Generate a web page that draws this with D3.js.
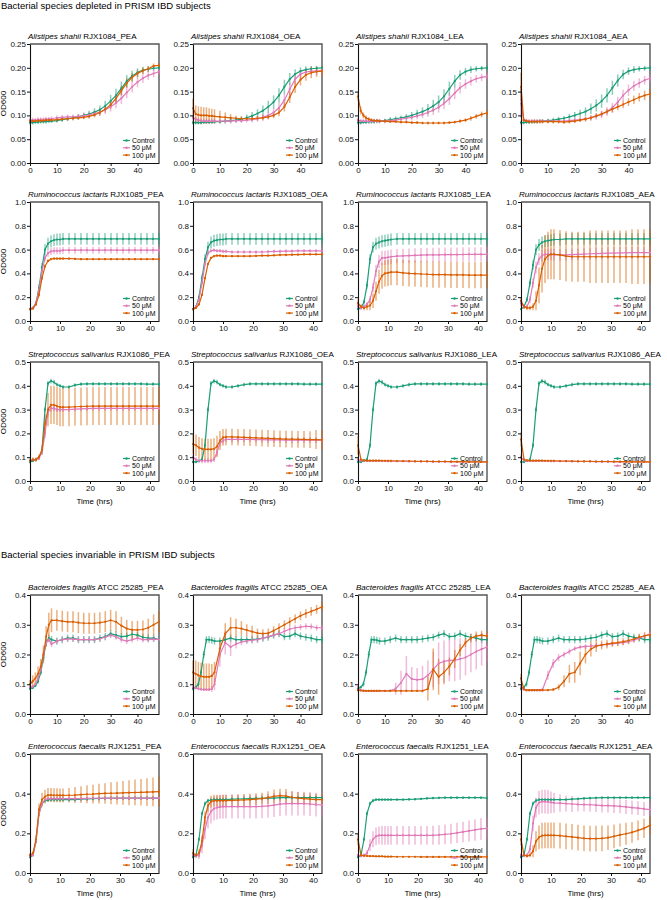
<!DOCTYPE html>
<html>
<head>
<meta charset="utf-8">
<script src="https://cdn.jsdelivr.net/npm/d3@7"></script>
<style>
	body { margin: 0; background: #fff; }
	text { font-family: "Liberation Sans", Arial, Helvetica, sans-serif; }
</style>
</head>
<body>
<svg id="chart" width="667" height="900"></svg>
<script>
// sampling times (hrs)
var timesA = [0,1,2,3,4,5,6,7,8,10,12,14,16,18,20,22,24,26,28,30,32,34,36,38,40,42,44,46,48];
var timesB = [0,1,2,3,4,5,6,7,8,9,10,11,13,15,17,19,21,23,25,27,29,31,33,35,37,39,41,43];

var compounds = ["PEA", "OEA", "LEA", "AEA"];
var treatments = ["Control", "50 μM", "100 μM"];
var species = ["Alistipes shahii", "Ruminococcus lactaris", "Streptococcus salivarius", "Bacteroides fragilis", "Enterococcus faecalis"];
var strains = ["RJX1084", "RJX1085", "RJX1086", "ATCC 25285", "RJX1251"];
var sectionTitles = ["Bacterial species depleted in PRISM IBD subjects", "Bacterial species invariable in PRISM IBD subjects"];
var xMaxes = [48, 43, 43, 48, 43];
var yMaxes = [0.25, 1.0, 0.5, 0.4, 0.6];
var xTicks = [0, 10, 20, 30, 40];
var yTicks = [
	[0, 0.05, 0.10, 0.15, 0.20, 0.25],
	[0, 0.2, 0.4, 0.6, 0.8, 1.0],
	[0, 0.1, 0.2, 0.3, 0.4, 0.5],
	[0, 0.1, 0.2, 0.3, 0.4],
	[0, 0.2, 0.4, 0.6]
];

// Alistipes shahii  [control, 50uM, 100uM]
var asPEA = [
	[.085,.085,.086,.086,.087,.087,.087,.088,.088,.089,.091,.093,.095,.097,.100,.103,.107,.112,.120,.130,.142,.157,.172,.183,.190,.195,.197,.199,.200],
	[.090,.090,.090,.091,.091,.091,.092,.092,.093,.095,.096,.097,.097,.098,.099,.101,.104,.107,.112,.118,.126,.136,.148,.160,.170,.178,.184,.188,.192],
	[.088,.088,.088,.089,.089,.089,.090,.090,.090,.091,.092,.093,.094,.095,.096,.098,.101,.106,.113,.122,.136,.152,.168,.180,.188,.194,.198,.204,.205]];
var asPEAerr = [
	[.004,.004,.004,.004,.004,.004,.004,.004,.004,.004,.005,.005,.005,.006,.006,.007,.008,.009,.011,.013,.014,.014,.013,.011,.009,.007,.006,.005,.005],
	[.005,.005,.005,.005,.005,.005,.005,.005,.005,.005,.005,.005,.005,.005,.006,.006,.007,.008,.009,.010,.011,.012,.012,.012,.011,.010,.009,.008,.007],
	[.004,.004,.004,.004,.004,.004,.004,.004,.004,.004,.004,.004,.004,.004,.004,.005,.005,.006,.007,.008,.009,.010,.010,.009,.008,.007,.006,.005,.005]];
var asOEA = [
	[.085,.085,.085,.085,.086,.086,.086,.086,.087,.087,.088,.089,.090,.092,.095,.099,.104,.110,.118,.128,.142,.160,.176,.187,.193,.196,.198,.199,.200],
	[.095,.092,.090,.089,.088,.088,.088,.088,.088,.088,.088,.088,.089,.089,.090,.091,.093,.096,.100,.106,.116,.132,.155,.176,.187,.191,.193,.193,.194],
	[.115,.103,.101,.100,.100,.100,.099,.099,.098,.097,.096,.095,.094,.093,.093,.093,.094,.095,.097,.100,.106,.118,.138,.160,.175,.185,.190,.192,.193]];
var asOEAerr = [
	[.004,.004,.004,.004,.004,.004,.004,.004,.004,.004,.005,.005,.005,.006,.007,.008,.009,.011,.013,.014,.015,.015,.013,.010,.008,.007,.006,.005,.005],
	[.006,.005,.005,.005,.005,.005,.005,.005,.005,.005,.005,.005,.005,.005,.005,.006,.006,.007,.008,.009,.011,.013,.014,.012,.010,.009,.008,.008,.008],
	[.020,.018,.018,.018,.017,.017,.016,.015,.015,.013,.010,.008,.006,.005,.005,.005,.005,.005,.005,.006,.008,.010,.012,.013,.012,.012,.012,.011,.011]];
var asLEA = [
	[.085,.085,.086,.086,.087,.087,.087,.088,.088,.089,.091,.093,.095,.097,.100,.104,.108,.113,.120,.128,.140,.156,.172,.185,.192,.196,.198,.199,.200],
	[.090,.088,.088,.088,.088,.088,.088,.088,.088,.088,.089,.090,.092,.094,.096,.099,.102,.106,.111,.117,.125,.135,.147,.158,.166,.172,.177,.180,.182],
	[.140,.110,.100,.095,.092,.090,.089,.089,.088,.088,.087,.087,.086,.086,.085,.085,.084,.084,.084,.084,.084,.085,.086,.088,.090,.094,.098,.102,.105]];
var asLEAerr = [
	[.004,.004,.004,.004,.004,.004,.004,.004,.004,.004,.005,.005,.005,.006,.007,.008,.009,.011,.013,.014,.015,.015,.013,.010,.008,.007,.006,.005,.005],
	[.005,.005,.005,.005,.005,.005,.005,.005,.005,.005,.005,.005,.005,.006,.006,.007,.008,.009,.010,.011,.012,.013,.013,.012,.010,.009,.008,.008,.007],
	[.010,.008,.006,.005,.004,.004,.003,.003,.003,.003,.003,.003,.003,.003,.003,.003,.003,.003,.003,.003,.003,.003,.003,.004,.004,.005,.005,.006,.006]];
var asAEA = [
	[.085,.085,.086,.086,.087,.087,.087,.088,.088,.089,.090,.092,.094,.097,.100,.104,.108,.114,.121,.130,.142,.158,.173,.186,.193,.196,.198,.199,.200],
	[.125,.090,.089,.088,.088,.088,.088,.088,.088,.088,.088,.088,.088,.089,.090,.091,.093,.095,.098,.102,.108,.116,.128,.142,.153,.162,.168,.174,.178],
	[.160,.090,.088,.087,.087,.087,.087,.087,.087,.087,.087,.087,.086,.087,.088,.090,.092,.095,.099,.103,.108,.113,.118,.123,.128,.133,.138,.142,.145]];
var asAEAerr = [
	[.004,.004,.004,.004,.004,.004,.004,.004,.004,.004,.005,.005,.005,.006,.007,.008,.009,.011,.013,.014,.015,.015,.013,.010,.008,.007,.006,.005,.005],
	[.030,.005,.004,.004,.004,.004,.004,.004,.004,.004,.004,.004,.004,.004,.005,.005,.005,.006,.007,.008,.009,.010,.011,.012,.012,.011,.010,.009,.008],
	[.030,.005,.004,.004,.004,.004,.004,.004,.004,.004,.004,.004,.004,.004,.004,.004,.005,.005,.005,.006,.006,.007,.007,.008,.008,.009,.009,.010,.010]];

// Ruminococcus lactaris
var rlPEA = [
	[.10,.11,.15,.28,.45,.60,.65,.67,.68,.685,.685,.69,.69,.69,.69,.69,.69,.69,.69,.69,.69,.69,.69,.69,.69,.69,.69,.69],
	[.10,.11,.15,.26,.42,.53,.57,.585,.59,.59,.59,.595,.595,.595,.595,.595,.595,.595,.595,.595,.595,.595,.595,.595,.595,.595,.595,.595],
	[.10,.105,.14,.22,.36,.46,.505,.52,.525,.525,.525,.525,.525,.522,.52,.52,.52,.52,.52,.52,.52,.52,.52,.52,.52,.52,.52,.52]];
var rlPEAerr = [
	[.01,.01,.02,.03,.04,.045,.05,.05,.05,.05,.05,.05,.05,.05,.05,.05,.05,.05,.05,.05,.05,.05,.05,.05,.05,.05,.05,.05],
	[.01,.01,.015,.02,.025,.03,.03,.03,.03,.03,.03,.03,.03,.03,.03,.03,.03,.03,.03,.03,.03,.03,.03,.03,.03,.03,.03,.03],
	[.01,.01,.01,.015,.015,.015,.012,.01,.01,.01,.01,.01,.01,.01,.01,.01,.01,.01,.01,.01,.01,.01,.01,.01,.01,.01,.01,.01]];
var rlOEA = [
	[.10,.12,.20,.36,.52,.62,.66,.675,.68,.685,.685,.69,.69,.69,.69,.69,.69,.69,.69,.69,.69,.69,.69,.69,.69,.69,.69,.69],
	[.10,.12,.18,.32,.48,.57,.59,.595,.59,.59,.585,.585,.58,.58,.58,.58,.58,.58,.582,.585,.585,.587,.588,.59,.59,.59,.59,.59],
	[.10,.11,.14,.22,.36,.48,.53,.545,.55,.55,.545,.545,.545,.545,.545,.545,.547,.55,.55,.552,.555,.555,.557,.558,.56,.56,.56,.56]];
var rlOEAerr = [
	[.01,.01,.02,.03,.04,.045,.05,.05,.05,.05,.05,.05,.05,.05,.05,.05,.05,.05,.05,.05,.05,.05,.05,.05,.05,.05,.05,.05],
	[.01,.01,.015,.02,.02,.02,.015,.015,.015,.015,.015,.015,.015,.015,.015,.015,.015,.015,.015,.015,.015,.015,.015,.015,.015,.015,.015,.015],
	[.01,.01,.01,.01,.01,.01,.01,.01,.01,.01,.01,.01,.01,.01,.01,.01,.01,.01,.01,.01,.01,.01,.01,.01,.01,.01,.01,.01]];
var rlLEA = [
	[.10,.11,.16,.30,.52,.62,.65,.66,.67,.675,.68,.685,.69,.69,.69,.69,.69,.69,.69,.69,.69,.69,.69,.69,.69,.69,.69,.69],
	[.12,.11,.12,.14,.18,.28,.42,.50,.53,.53,.535,.54,.545,.548,.55,.552,.553,.555,.555,.556,.557,.558,.558,.559,.56,.56,.56,.56],
	[.15,.12,.11,.12,.13,.17,.25,.33,.38,.40,.405,.41,.41,.405,.40,.398,.395,.393,.39,.39,.39,.388,.388,.387,.386,.385,.385,.385]];
var rlLEAerr = [
	[.01,.01,.02,.03,.04,.045,.05,.05,.05,.05,.05,.05,.05,.05,.05,.05,.05,.05,.05,.05,.05,.05,.05,.05,.05,.05,.05,.05],
	[.02,.02,.02,.02,.03,.04,.05,.055,.06,.06,.06,.06,.06,.06,.06,.06,.06,.06,.06,.06,.06,.06,.06,.06,.06,.06,.06,.06],
	[.03,.02,.02,.03,.04,.06,.08,.10,.11,.11,.11,.11,.11,.11,.11,.11,.11,.11,.11,.11,.11,.11,.11,.11,.11,.11,.11,.11]];
var rlAEA = [
	[.10,.12,.18,.32,.47,.60,.64,.66,.67,.675,.68,.685,.685,.69,.69,.69,.69,.69,.69,.69,.69,.69,.69,.69,.69,.69,.69,.69],
	[.15,.12,.12,.18,.32,.45,.52,.55,.56,.56,.56,.558,.556,.556,.558,.56,.562,.565,.567,.568,.57,.571,.572,.573,.574,.575,.575,.575],
	[.17,.12,.11,.11,.12,.17,.30,.44,.52,.55,.56,.56,.555,.545,.54,.54,.54,.54,.54,.54,.54,.54,.54,.54,.54,.54,.54,.54]];
var rlAEAerr = [
	[.01,.01,.02,.03,.04,.045,.05,.05,.05,.05,.05,.05,.05,.05,.05,.05,.05,.05,.05,.05,.05,.05,.05,.05,.05,.05,.05,.05],
	[.03,.02,.02,.03,.04,.05,.05,.05,.05,.05,.05,.05,.05,.05,.05,.05,.05,.05,.05,.05,.05,.05,.05,.05,.05,.05,.05,.05],
	[.03,.02,.02,.02,.03,.08,.15,.20,.20,.20,.21,.21,.21,.21,.21,.21,.21,.22,.22,.22,.22,.22,.22,.22,.23,.23,.23,.23]];

// Streptococcus salivarius
var ssPEA = [
	[.08,.085,.09,.10,.13,.30,.41,.42,.415,.405,.40,.395,.395,.403,.407,.408,.408,.408,.408,.408,.408,.408,.408,.408,.408,.407,.407,.407],
	[.085,.09,.09,.095,.12,.20,.29,.305,.305,.30,.30,.30,.30,.302,.303,.304,.305,.305,.305,.305,.305,.305,.305,.305,.305,.305,.305,.305],
	[.085,.09,.09,.10,.13,.24,.30,.32,.32,.315,.31,.31,.31,.312,.313,.314,.315,.315,.315,.315,.315,.315,.315,.315,.315,.315,.315,.315]];
var ssPEAerr = [
	[.005,.005,.005,.008,.01,.01,.01,.01,.01,.008,.008,.008,.008,.008,.008,.008,.008,.008,.008,.008,.008,.008,.008,.008,.008,.008,.008,.008],
	[.005,.005,.005,.008,.01,.02,.02,.015,.012,.01,.01,.01,.01,.01,.01,.01,.01,.01,.01,.01,.01,.01,.01,.01,.01,.01,.01,.01],
	[.01,.01,.01,.01,.02,.04,.07,.08,.08,.08,.08,.08,.08,.08,.08,.08,.08,.08,.08,.08,.08,.08,.08,.08,.08,.08,.08,.08]];
var ssOEA = [
	[.08,.08,.085,.09,.15,.30,.41,.42,.415,.405,.40,.395,.395,.40,.405,.408,.408,.408,.408,.408,.408,.408,.408,.408,.407,.407,.407,.407],
	[.10,.09,.085,.085,.085,.085,.085,.09,.12,.16,.17,.175,.175,.175,.175,.175,.174,.174,.173,.173,.173,.172,.172,.172,.172,.172,.172,.172],
	[.155,.15,.14,.135,.133,.133,.133,.135,.145,.17,.183,.185,.185,.184,.183,.182,.181,.180,.179,.178,.177,.176,.176,.175,.175,.174,.174,.173]];
var ssOEAerr = [
	[.005,.005,.005,.008,.01,.01,.01,.01,.01,.008,.008,.008,.008,.008,.008,.008,.008,.008,.008,.008,.008,.008,.008,.008,.008,.008,.008,.008],
	[.012,.01,.01,.01,.01,.01,.01,.01,.015,.015,.012,.012,.012,.012,.012,.012,.012,.012,.012,.012,.012,.012,.012,.012,.012,.012,.012,.012],
	[.04,.045,.045,.045,.045,.045,.045,.045,.045,.04,.035,.035,.035,.035,.035,.035,.035,.035,.035,.035,.035,.035,.035,.035,.035,.035,.04,.04]];
var ssLEA = [
	[.08,.08,.085,.09,.15,.30,.41,.42,.415,.405,.40,.395,.395,.40,.405,.408,.408,.408,.408,.408,.408,.408,.408,.408,.407,.407,.407,.407],
	[.09,.085,.085,.084,.084,.084,.084,.084,.084,.084,.083,.083,.083,.083,.082,.082,.082,.082,.081,.081,.081,.081,.080,.080,.080,.080,.080,.080],
	[.15,.09,.087,.086,.086,.086,.086,.086,.085,.085,.085,.085,.084,.084,.084,.083,.083,.083,.082,.082,.082,.081,.081,.081,.080,.080,.080,.080]];
var ssLEAerr = [
	[.005,.005,.005,.008,.01,.01,.01,.01,.01,.008,.008,.008,.008,.008,.008,.008,.008,.008,.008,.008,.008,.008,.008,.008,.008,.008,.008,.008],
	[.005,.004,.004,.004,.004,.004,.004,.004,.004,.004,.004,.004,.004,.004,.004,.004,.004,.004,.004,.004,.004,.004,.004,.004,.004,.004,.004,.004],
	[.04,.005,.004,.004,.004,.004,.004,.004,.004,.004,.004,.004,.004,.004,.004,.004,.004,.004,.004,.004,.004,.004,.004,.004,.004,.004,.004,.004]];
var ssAEA = [
	[.08,.08,.085,.09,.15,.30,.41,.42,.415,.405,.40,.395,.395,.40,.405,.408,.408,.408,.408,.408,.408,.408,.408,.408,.407,.407,.407,.407],
	[.10,.085,.084,.084,.084,.084,.084,.084,.084,.084,.083,.083,.083,.083,.082,.082,.082,.082,.081,.081,.081,.081,.080,.080,.080,.080,.080,.080],
	[.175,.09,.087,.086,.086,.086,.086,.086,.085,.085,.085,.085,.084,.084,.084,.083,.083,.083,.082,.082,.082,.081,.081,.081,.080,.080,.080,.080]];
var ssAEAerr = [
	[.005,.005,.005,.008,.01,.01,.01,.01,.01,.008,.008,.008,.008,.008,.008,.008,.008,.008,.008,.008,.008,.008,.008,.008,.008,.008,.008,.008],
	[.01,.004,.004,.004,.004,.004,.004,.004,.004,.004,.004,.004,.004,.004,.004,.004,.004,.004,.004,.004,.004,.004,.004,.004,.004,.004,.004,.004],
	[.03,.005,.004,.004,.004,.004,.004,.004,.004,.004,.004,.004,.004,.004,.004,.004,.004,.004,.004,.004,.004,.004,.004,.004,.004,.004,.004,.004]];

// Bacteroides fragilis
var bfPEA = [
	[.085,.088,.095,.11,.14,.19,.24,.255,.25,.245,.25,.255,.255,.25,.25,.25,.25,.255,.26,.27,.265,.26,.262,.268,.265,.258,.255,.255,.25],
	[.09,.092,.10,.12,.15,.20,.24,.25,.235,.245,.25,.252,.252,.25,.25,.25,.25,.253,.258,.265,.26,.25,.245,.25,.255,.25,.25,.252,.25],
	[.10,.11,.12,.135,.16,.20,.26,.30,.315,.315,.312,.31,.31,.307,.305,.305,.305,.307,.31,.315,.31,.297,.287,.283,.283,.284,.29,.30,.31]];
var bfPEAerr = [
	[.005,.005,.005,.008,.01,.012,.012,.012,.012,.012,.012,.012,.012,.012,.012,.012,.012,.012,.012,.012,.012,.012,.012,.012,.012,.012,.012,.012,.012],
	[.005,.005,.006,.008,.01,.012,.012,.01,.01,.01,.01,.01,.01,.01,.01,.01,.01,.01,.01,.01,.01,.01,.01,.01,.01,.01,.01,.01,.01],
	[.015,.02,.02,.025,.025,.03,.035,.04,.04,.035,.035,.035,.035,.035,.035,.035,.035,.035,.035,.035,.035,.03,.03,.03,.03,.03,.03,.035,.035]];
var bfOEA = [
	[.085,.09,.10,.14,.20,.25,.25,.248,.245,.245,.25,.255,.25,.25,.25,.25,.252,.255,.258,.265,.27,.26,.262,.27,.262,.258,.255,.25,.25],
	[.09,.087,.085,.083,.082,.082,.082,.084,.10,.20,.24,.225,.235,.242,.245,.248,.25,.255,.26,.265,.27,.278,.285,.29,.292,.295,.294,.29,.29],
	[.14,.135,.13,.127,.125,.125,.125,.128,.14,.22,.27,.29,.29,.287,.282,.277,.272,.27,.272,.28,.29,.30,.31,.32,.33,.338,.345,.352,.36]];
var bfOEAerr = [
	[.005,.005,.008,.01,.012,.012,.012,.012,.012,.012,.012,.012,.012,.012,.012,.012,.012,.012,.012,.012,.012,.012,.012,.012,.012,.012,.012,.012,.012],
	[.01,.005,.005,.005,.005,.005,.005,.01,.02,.04,.04,.03,.015,.01,.01,.01,.01,.01,.01,.01,.01,.01,.01,.01,.01,.01,.01,.01,.01],
	[.04,.045,.045,.045,.045,.045,.045,.04,.035,.03,.035,.035,.03,.025,.02,.02,.015,.015,.015,.015,.015,.015,.015,.015,.015,.015,.015,.015,.015]];
var bfLEA = [
	[.085,.09,.10,.14,.20,.25,.25,.248,.245,.245,.25,.255,.25,.25,.25,.25,.252,.255,.258,.265,.27,.26,.262,.27,.262,.258,.255,.25,.25],
	[.09,.08,.079,.078,.078,.078,.078,.078,.078,.078,.078,.085,.105,.135,.118,.115,.117,.13,.15,.17,.177,.18,.18,.185,.19,.20,.21,.218,.225],
	[.08,.079,.078,.078,.078,.078,.078,.078,.078,.078,.078,.078,.078,.078,.078,.078,.078,.085,.15,.125,.14,.16,.185,.215,.24,.255,.262,.265,.262]];
var bfLEAerr = [
	[.005,.005,.008,.01,.012,.012,.012,.012,.012,.012,.012,.012,.012,.012,.012,.012,.012,.012,.012,.012,.012,.012,.012,.012,.012,.012,.012,.012,.012],
	[.005,.003,.003,.003,.003,.003,.003,.003,.003,.003,.005,.02,.04,.06,.04,.04,.045,.05,.06,.07,.07,.07,.07,.07,.06,.06,.06,.055,.05],
	[.005,.003,.003,.003,.003,.003,.003,.003,.003,.003,.003,.003,.003,.003,.003,.003,.003,.04,.07,.06,.04,.03,.03,.02,.015,.015,.015,.015,.015]];
var bfAEA = [
	[.085,.09,.10,.14,.20,.25,.25,.248,.245,.245,.25,.255,.25,.25,.25,.25,.252,.255,.258,.265,.27,.26,.262,.27,.262,.258,.255,.25,.25],
	[.09,.082,.08,.08,.08,.08,.08,.08,.082,.13,.17,.19,.20,.21,.22,.225,.227,.228,.23,.232,.234,.236,.238,.24,.243,.248,.255,.262,.27],
	[.12,.085,.08,.08,.08,.08,.08,.08,.08,.08,.082,.09,.11,.135,.14,.17,.20,.218,.228,.232,.235,.238,.24,.243,.247,.252,.258,.263,.266]];
var bfAEAerr = [
	[.005,.005,.008,.01,.012,.012,.012,.012,.012,.012,.012,.012,.012,.012,.012,.012,.012,.012,.012,.012,.012,.012,.012,.012,.012,.012,.012,.012,.012],
	[.01,.004,.004,.004,.004,.004,.004,.004,.006,.015,.015,.012,.01,.01,.008,.008,.008,.008,.008,.008,.008,.008,.008,.008,.008,.008,.008,.008,.008],
	[.015,.005,.003,.003,.003,.003,.003,.003,.003,.003,.005,.01,.02,.03,.035,.04,.03,.025,.02,.015,.015,.012,.012,.012,.012,.012,.012,.012,.012]];

// Enterococcus faecalis
var efPEA = [
	[.08,.09,.16,.30,.35,.365,.368,.37,.37,.37,.37,.37,.37,.37,.372,.373,.375,.376,.377,.378,.378,.378,.378,.378,.378,.378,.378,.378],
	[.085,.09,.16,.30,.35,.37,.375,.375,.375,.375,.375,.375,.375,.375,.375,.376,.377,.377,.378,.378,.378,.378,.378,.378,.378,.378,.378,.378],
	[.09,.10,.17,.32,.37,.385,.393,.393,.392,.392,.391,.391,.392,.393,.395,.397,.398,.40,.401,.402,.403,.404,.405,.406,.407,.408,.409,.41]];
var efPEAerr = [
	[.005,.005,.01,.01,.01,.01,.01,.01,.01,.01,.01,.01,.01,.01,.01,.01,.01,.01,.01,.01,.01,.01,.01,.01,.01,.01,.01,.01],
	[.005,.005,.01,.01,.01,.01,.01,.01,.01,.01,.01,.01,.01,.01,.01,.01,.01,.01,.01,.01,.01,.01,.01,.01,.01,.01,.01,.01],
	[.01,.01,.02,.03,.035,.035,.035,.035,.035,.035,.035,.035,.037,.04,.042,.045,.047,.05,.052,.055,.057,.06,.063,.065,.067,.07,.072,.075]];
var efOEA = [
	[.08,.09,.17,.30,.35,.365,.368,.37,.37,.37,.37,.37,.372,.373,.374,.375,.376,.377,.378,.378,.38,.38,.38,.38,.38,.38,.38,.38],
	[.09,.085,.09,.14,.22,.28,.31,.325,.33,.333,.335,.335,.335,.335,.335,.335,.335,.336,.338,.342,.347,.35,.35,.35,.35,.348,.345,.343],
	[.10,.09,.10,.16,.28,.34,.36,.365,.365,.365,.365,.365,.366,.367,.368,.37,.372,.375,.38,.386,.39,.388,.382,.378,.375,.372,.37,.37]];
var efOEAerr = [
	[.005,.005,.01,.01,.01,.01,.01,.01,.01,.01,.01,.01,.01,.01,.01,.01,.01,.01,.01,.01,.01,.01,.01,.01,.01,.01,.01,.01],
	[.01,.01,.02,.04,.05,.055,.06,.06,.06,.06,.06,.06,.06,.06,.06,.06,.06,.06,.06,.06,.06,.06,.06,.06,.06,.06,.06,.06],
	[.02,.01,.02,.03,.03,.03,.03,.03,.03,.03,.03,.03,.03,.03,.03,.03,.03,.03,.032,.035,.035,.035,.032,.03,.03,.03,.03,.03]];
var efLEA = [
	[.08,.09,.17,.30,.35,.365,.37,.37,.37,.37,.37,.37,.37,.37,.371,.372,.374,.376,.378,.379,.38,.38,.38,.38,.38,.38,.38,.378],
	[.09,.085,.09,.10,.14,.17,.185,.19,.19,.19,.19,.19,.19,.19,.19,.19,.19,.19,.19,.192,.195,.198,.202,.207,.212,.217,.222,.225],
	[.17,.09,.087,.086,.085,.085,.084,.084,.084,.083,.083,.083,.082,.082,.082,.082,.081,.081,.081,.081,.081,.081,.081,.081,.081,.081,.081,.081]];
var efLEAerr = [
	[.005,.005,.01,.01,.01,.01,.006,.006,.006,.006,.006,.006,.006,.006,.006,.006,.006,.006,.006,.006,.006,.006,.006,.006,.006,.006,.006,.006],
	[.005,.005,.01,.015,.03,.04,.045,.045,.047,.047,.047,.047,.047,.047,.047,.047,.047,.047,.048,.049,.05,.05,.051,.052,.053,.054,.055,.055],
	[.03,.005,.004,.004,.004,.004,.004,.004,.004,.004,.004,.004,.004,.004,.004,.004,.004,.004,.004,.004,.004,.004,.004,.004,.004,.004,.004,.004]];
var efAEA = [
	[.08,.09,.17,.30,.35,.365,.37,.37,.37,.37,.37,.37,.37,.37,.372,.374,.376,.378,.379,.38,.38,.38,.38,.38,.38,.38,.38,.38],
	[.09,.088,.09,.12,.25,.33,.355,.36,.36,.358,.356,.354,.352,.35,.348,.346,.345,.344,.342,.34,.34,.338,.336,.333,.33,.327,.323,.32],
	[.17,.09,.085,.09,.11,.16,.18,.188,.19,.19,.19,.19,.188,.185,.182,.178,.175,.173,.173,.175,.178,.185,.192,.198,.205,.215,.225,.24]];
var efAEAerr = [
	[.005,.005,.01,.01,.01,.01,.006,.006,.006,.006,.006,.006,.006,.006,.006,.006,.006,.006,.006,.006,.006,.006,.006,.006,.006,.006,.006,.006],
	[.01,.01,.01,.02,.04,.05,.06,.06,.06,.06,.055,.05,.045,.04,.04,.035,.035,.035,.035,.035,.035,.035,.035,.035,.035,.035,.035,.035],
	[.03,.005,.005,.01,.03,.05,.06,.065,.065,.065,.065,.065,.065,.065,.065,.065,.065,.065,.065,.065,.062,.06,.058,.055,.052,.05,.048,.045]];

var rowTimes = [timesA, timesB, timesB, timesA, timesB];
var means = [
	[asPEA, asOEA, asLEA, asAEA],
	[rlPEA, rlOEA, rlLEA, rlAEA],
	[ssPEA, ssOEA, ssLEA, ssAEA],
	[bfPEA, bfOEA, bfLEA, bfAEA],
	[efPEA, efOEA, efLEA, efAEA]
];
var errors = [
	[asPEAerr, asOEAerr, asLEAerr, asAEAerr],
	[rlPEAerr, rlOEAerr, rlLEAerr, rlAEAerr],
	[ssPEAerr, ssOEAerr, ssLEAerr, ssAEAerr],
	[bfPEAerr, bfOEAerr, bfLEAerr, bfAEAerr],
	[efPEAerr, efOEAerr, efLEAerr, efAEAerr]
];

// layout
var panel_left = [30, 193, 358, 521];
var row_top = [44, 202, 362, 595, 754];
var panel_w = 129, panel_h = 119;
var colors = ["#1b9e77", "#e07ab8", "#d95f02"];
var time_label_rows = [2, 4];

var svg = d3.select("#chart");

svg.append("text").attr("x", 1).attr("y", 9).style("font-size", "9.5px").text(sectionTitles[0]);
svg.append("text").attr("x", 1).attr("y", 558).style("font-size", "9.5px").text(sectionTitles[1]);

for (var r = 0; r < 5; r++) {
	for (var c = 0; c < 4; c++) {
		draw_panel(r, c);
	}
}

function draw_panel(r, c) {
	var times = rowTimes[r];
	var x = d3.scaleLinear().domain([0, xMaxes[r]]).range([0, panel_w]);
	var y = d3.scaleLinear().domain([0, yMaxes[r]]).range([panel_h, 0]);
	var g = svg.append("g")
			   .attr("transform", "translate(" + panel_left[c] + "," + row_top[r] + ")");

	// top / right frame
	g.append("path")
	 .attr("d", "M0,0H" + panel_w + "V" + panel_h)
	 .attr("fill", "none")
	 .attr("stroke", "#555")
	 .attr("stroke-width", 1.4);

	// error bars first, then lines on top
	for (var s = 0; s < 3; s++) {
		var m = means[r][c][s], e = errors[r][c][s];
		g.append("g").selectAll("line")
		 .data(times)
		 .enter().append("line")
		 	.attr("x1", function(t) { return x(t); })
		 	.attr("x2", function(t) { return x(t); })
		 	.attr("y1", function(t, i) { return y(m[i] - e[i]); })
		 	.attr("y2", function(t, i) { return y(m[i] + e[i]); })
		 	.attr("stroke", colors[s])
		 	.attr("stroke-opacity", 0.5)
		 	.attr("stroke-width", 1.5);
	}
	for (var s = 0; s < 3; s++) {
		var m = means[r][c][s];
		var line = d3.line()
					 .x(function(t) { return x(t); })
					 .y(function(t, i) { return y(m[i]); });
		g.append("path")
		 .datum(times)
		 .attr("d", line)
		 .attr("fill", "none")
		 .attr("stroke", colors[s])
		 .attr("stroke-width", 1.2);
		g.append("g").selectAll("circle")
		 .data(times)
		 .enter().append("circle")
		 	.attr("cx", function(t) { return x(t); })
		 	.attr("cy", function(t, i) { return y(m[i]); })
		 	.attr("r", 1.1)
		 	.attr("fill", colors[s]);
	}

	var fmt = (r == 0) ? d3.format(".2f") : d3.format(".1f");
	var ya = g.append("g")
			  .call(d3.axisLeft(y).tickValues(yTicks[r]).tickFormat(fmt).tickSize(3).tickSizeOuter(0).tickPadding(1));
	var xa = g.append("g")
			  .attr("transform", "translate(0," + panel_h + ")")
			  .call(d3.axisBottom(x).tickValues(xTicks).tickSize(3).tickSizeOuter(0).tickPadding(1));
	[ya, xa].forEach(function(a) {
		a.selectAll("text").style("font-size", "8px").attr("fill", "#111");
		a.select(".domain").attr("stroke", "#111").attr("stroke-width", 1.1);
		a.selectAll(".tick line").attr("stroke", "#111");
	});

	// title
	var title = g.append("text")
				 .attr("x", -2)
				 .attr("y", -5)
				 .style("font-size", "8px");
	title.append("tspan").style("font-style", "italic").text(species[r]);
	title.append("tspan").text(" " + strains[r] + "_" + compounds[c]);

	if (c == 0) {
		g.append("text")
		 .attr("transform", "translate(-24," + (panel_h / 2) + ") rotate(-90)")
		 .attr("text-anchor", "middle")
		 .style("font-size", "8px")
		 .text("OD600");
	}
	if (time_label_rows.indexOf(r) >= 0) {
		g.append("text")
		 .attr("x", panel_w / 2)
		 .attr("y", panel_h + 22.5)
		 .attr("text-anchor", "middle")
		 .style("font-size", "8px")
		 .text("Time (hrs)");
	}

	// legend
	var legend = g.append("g").attr("transform", "translate(" + (panel_w - 36) + "," + (panel_h - 22.5) + ")");
	treatments.forEach(function(name, i) {
		var item = legend.append("g").attr("transform", "translate(0," + (i * 7.3) + ")");
		item.append("line").attr("x1", 0).attr("x2", 7).attr("stroke", colors[i]).attr("stroke-width", 1.2);
		item.append("circle").attr("cx", 3.5).attr("r", 1.2).attr("fill", colors[i]);
		item.append("text").attr("x", 9).attr("y", 2.4).style("font-size", "7px").text(name);
	});
}
</script>
</body>
</html>
